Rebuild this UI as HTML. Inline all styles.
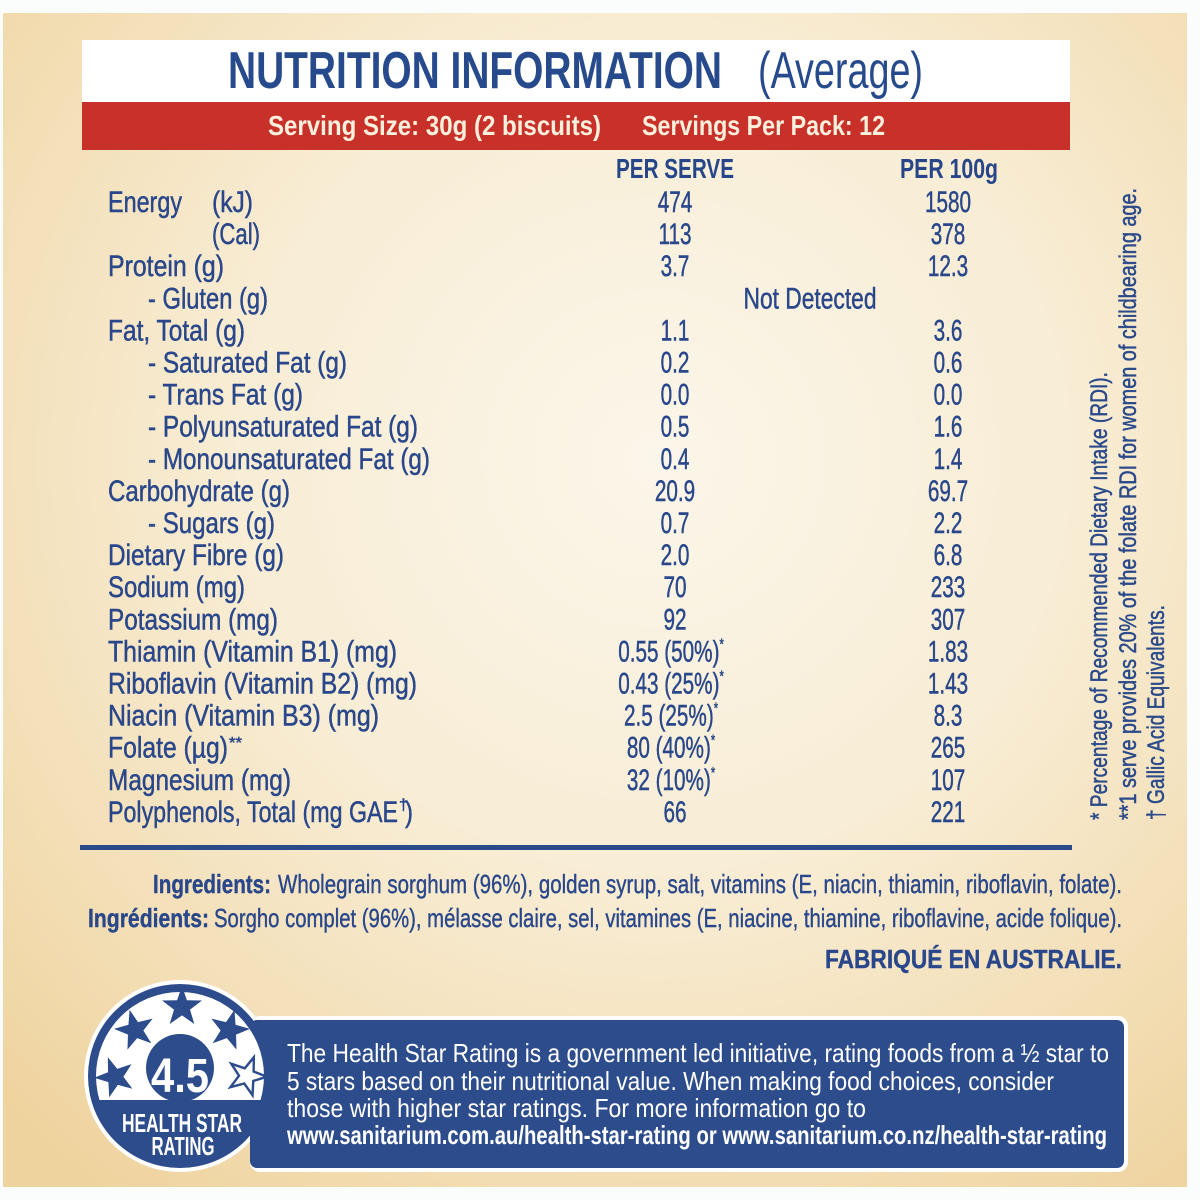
<!DOCTYPE html>
<html><head><meta charset="utf-8">
<style>
html,body{margin:0;padding:0;background:#fbfcfc;}
svg{display:block;}
text{font-family:"Liberation Sans",sans-serif;}
</style></head>
<body>
<svg width="1200" height="1200" viewBox="0 0 1200 1200" xmlns="http://www.w3.org/2000/svg">
<defs>
  <radialGradient id="bg" cx="0.55" cy="0.38" r="0.78">
    <stop offset="0" stop-color="#fbf6ea"/>
    <stop offset="0.45" stop-color="#f8edd5"/>
    <stop offset="1" stop-color="#efd39e"/>
  </radialGradient>
  <polygon id="st" points="0,-1 0.235,-0.324 0.951,-0.309 0.380,0.124 0.588,0.809 0,0.4 -0.588,0.809 -0.380,0.124 -0.951,-0.309 -0.235,-0.324"/>
  <clipPath id="topclip"><rect x="0" y="960" width="400" height="140"/></clipPath>
</defs>

<rect width="1200" height="1200" fill="#fbfcfc"/>
<rect x="3" y="13" width="1184" height="1174" fill="url(#bg)"/>

<!-- Title -->
<rect x="82" y="40" width="988" height="62" fill="#ffffff"/>
<text x="228" y="88" font-size="52" font-weight="bold" fill="#264a8c" textLength="494" lengthAdjust="spacingAndGlyphs">NUTRITION INFORMATION</text>
<text x="758" y="88" font-size="52" fill="#264a8c" textLength="165" lengthAdjust="spacingAndGlyphs">(Average)</text>

<rect x="82" y="102" width="988" height="48" fill="#c8312a"/>
<text x="268" y="135" font-size="28" font-weight="bold" fill="#fcefdc" textLength="333" lengthAdjust="spacingAndGlyphs">Serving Size: 30g (2 biscuits)</text>
<text x="642" y="135" font-size="28" font-weight="bold" fill="#fcefdc" textLength="243" lengthAdjust="spacingAndGlyphs">Servings Per Pack: 12</text>

<!-- Column headers -->
<text x="616" y="178" font-size="28" font-weight="bold" fill="#27468a" textLength="118" lengthAdjust="spacingAndGlyphs">PER SERVE</text>
<text x="900" y="178" font-size="28" font-weight="bold" fill="#27468a" textLength="98" lengthAdjust="spacingAndGlyphs">PER 100g</text>

<!-- Labels -->
<g font-size="30" fill="#29478a" stroke="#29478a" stroke-width="0.5">
<text x="108" y="212" textLength="74" lengthAdjust="spacingAndGlyphs">Energy</text>
<text x="212" y="212" textLength="41" lengthAdjust="spacingAndGlyphs">(kJ)</text>
<text x="212" y="244.1" textLength="48" lengthAdjust="spacingAndGlyphs">(Cal)</text>
<text x="108" y="276.2" textLength="116" lengthAdjust="spacingAndGlyphs">Protein (g)</text>
<text x="148" y="308.3" textLength="120" lengthAdjust="spacingAndGlyphs">- Gluten (g)</text>
<text x="108" y="340.4" textLength="137" lengthAdjust="spacingAndGlyphs">Fat, Total (g)</text>
<text x="148" y="372.5" textLength="199" lengthAdjust="spacingAndGlyphs">- Saturated Fat (g)</text>
<text x="148" y="404.6" textLength="155" lengthAdjust="spacingAndGlyphs">- Trans Fat (g)</text>
<text x="148" y="436.7" textLength="270" lengthAdjust="spacingAndGlyphs">- Polyunsaturated Fat (g)</text>
<text x="148" y="468.8" textLength="282" lengthAdjust="spacingAndGlyphs">- Monounsaturated Fat (g)</text>
<text x="108" y="500.9" textLength="182" lengthAdjust="spacingAndGlyphs">Carbohydrate (g)</text>
<text x="148" y="533" textLength="127" lengthAdjust="spacingAndGlyphs">- Sugars (g)</text>
<text x="108" y="565.1" textLength="176" lengthAdjust="spacingAndGlyphs">Dietary Fibre (g)</text>
<text x="108" y="597.2" textLength="137" lengthAdjust="spacingAndGlyphs">Sodium (mg)</text>
<text x="108" y="629.3" textLength="170" lengthAdjust="spacingAndGlyphs">Potassium (mg)</text>
<text x="108" y="661.4" textLength="289" lengthAdjust="spacingAndGlyphs">Thiamin (Vitamin B1) (mg)</text>
<text x="108" y="693.5" textLength="309" lengthAdjust="spacingAndGlyphs">Riboflavin (Vitamin B2) (mg)</text>
<text x="108" y="725.6" textLength="271" lengthAdjust="spacingAndGlyphs">Niacin (Vitamin B3) (mg)</text>
<text x="108" y="757.7" textLength="120" lengthAdjust="spacingAndGlyphs">Folate (µg)</text>
<text x="229" y="748" font-size="16" textLength="13" lengthAdjust="spacingAndGlyphs">**</text>
<text x="108" y="789.8" textLength="183" lengthAdjust="spacingAndGlyphs">Magnesium (mg)</text>
<text x="108" y="821.9" textLength="290" lengthAdjust="spacingAndGlyphs">Polyphenols, Total (mg GAE</text>
<text x="399" y="810" font-size="16">†</text>
<text x="405" y="821.9" textLength="8" lengthAdjust="spacingAndGlyphs">)</text>
</g>

<!-- Values -->
<g font-size="30" fill="#29478a" stroke="#29478a" stroke-width="0.5" text-anchor="middle">
<g transform="translate(675,212) scale(0.69,1)"><text>474</text></g>
<g transform="translate(948,212) scale(0.69,1)"><text>1580</text></g>
<g transform="translate(675,244.1) scale(0.69,1)"><text>113</text></g>
<g transform="translate(948,244.1) scale(0.69,1)"><text>378</text></g>
<g transform="translate(675,276.2) scale(0.69,1)"><text>3.7</text></g>
<g transform="translate(948,276.2) scale(0.69,1)"><text>12.3</text></g>
<text x="810" y="308.3" textLength="133" lengthAdjust="spacingAndGlyphs">Not Detected</text>
<g transform="translate(675,340.4) scale(0.69,1)"><text>1.1</text></g>
<g transform="translate(948,340.4) scale(0.69,1)"><text>3.6</text></g>
<g transform="translate(675,372.5) scale(0.69,1)"><text>0.2</text></g>
<g transform="translate(948,372.5) scale(0.69,1)"><text>0.6</text></g>
<g transform="translate(675,404.6) scale(0.69,1)"><text>0.0</text></g>
<g transform="translate(948,404.6) scale(0.69,1)"><text>0.0</text></g>
<g transform="translate(675,436.7) scale(0.69,1)"><text>0.5</text></g>
<g transform="translate(948,436.7) scale(0.69,1)"><text>1.6</text></g>
<g transform="translate(675,468.8) scale(0.69,1)"><text>0.4</text></g>
<g transform="translate(948,468.8) scale(0.69,1)"><text>1.4</text></g>
<g transform="translate(675,500.9) scale(0.69,1)"><text>20.9</text></g>
<g transform="translate(948,500.9) scale(0.69,1)"><text>69.7</text></g>
<g transform="translate(675,533) scale(0.69,1)"><text>0.7</text></g>
<g transform="translate(948,533) scale(0.69,1)"><text>2.2</text></g>
<g transform="translate(675,565.1) scale(0.69,1)"><text>2.0</text></g>
<g transform="translate(948,565.1) scale(0.69,1)"><text>6.8</text></g>
<g transform="translate(675,597.2) scale(0.69,1)"><text>70</text></g>
<g transform="translate(948,597.2) scale(0.69,1)"><text>233</text></g>
<g transform="translate(675,629.3) scale(0.69,1)"><text>92</text></g>
<g transform="translate(948,629.3) scale(0.69,1)"><text>307</text></g>
<g transform="translate(671,661.4) scale(0.69,1)"><text>0.55 (50%)<tspan font-size="16" dy="-12">*</tspan></text></g>
<g transform="translate(948,661.4) scale(0.69,1)"><text>1.83</text></g>
<g transform="translate(671,693.5) scale(0.69,1)"><text>0.43 (25%)<tspan font-size="16" dy="-12">*</tspan></text></g>
<g transform="translate(948,693.5) scale(0.69,1)"><text>1.43</text></g>
<g transform="translate(671,725.6) scale(0.69,1)"><text>2.5 (25%)<tspan font-size="16" dy="-12">*</tspan></text></g>
<g transform="translate(948,725.6) scale(0.69,1)"><text>8.3</text></g>
<g transform="translate(671,757.7) scale(0.69,1)"><text>80 (40%)<tspan font-size="16" dy="-12">*</tspan></text></g>
<g transform="translate(948,757.7) scale(0.69,1)"><text>265</text></g>
<g transform="translate(671,789.8) scale(0.69,1)"><text>32 (10%)<tspan font-size="16" dy="-12">*</tspan></text></g>
<g transform="translate(948,789.8) scale(0.69,1)"><text>107</text></g>
<g transform="translate(675,821.9) scale(0.69,1)"><text>66</text></g>
<g transform="translate(948,821.9) scale(0.69,1)"><text>221</text></g>
</g>

<!-- Divider -->
<rect x="80" y="845" width="992" height="5" fill="#2a4a8a"/>

<!-- Vertical footnotes -->
<g font-size="24" fill="#2b4a8a" stroke="#2b4a8a" stroke-width="0.5">
<text transform="translate(1107,820) rotate(-90)" textLength="448" lengthAdjust="spacingAndGlyphs">* Percentage of Recommended Dietary Intake (RDI).</text>
<text transform="translate(1136,820) rotate(-90)" textLength="632" lengthAdjust="spacingAndGlyphs">**1 serve provides 20% of the folate RDI for women of childbearing age.</text>
<text transform="translate(1164,820) rotate(-90)" textLength="215" lengthAdjust="spacingAndGlyphs">† Gallic Acid Equivalents.</text>
</g>

<!-- Ingredients -->
<g font-size="26" fill="#29478a" stroke="#29478a" stroke-width="0.4">
<text x="153" y="893" font-weight="bold" textLength="118" lengthAdjust="spacingAndGlyphs">Ingredients:</text>
<text x="278" y="893" textLength="844" lengthAdjust="spacingAndGlyphs">Wholegrain sorghum (96%), golden syrup, salt, vitamins (E, niacin, thiamin, riboflavin, folate).</text>
<text x="88" y="927" font-weight="bold" textLength="121" lengthAdjust="spacingAndGlyphs">Ingrédients:</text>
<text x="214" y="927" textLength="908" lengthAdjust="spacingAndGlyphs">Sorgho complet (96%), mélasse claire, sel, vitamines (E, niacine, thiamine, riboflavine, acide folique).</text>
<text x="825" y="968" font-weight="bold" textLength="297" lengthAdjust="spacingAndGlyphs">FABRIQUÉ EN AUSTRALIE.</text>
</g>

<!-- Health star rating -->
<rect x="250" y="1016" width="878" height="156" rx="10" fill="#ffffff"/>
<circle cx="180" cy="1076" r="96" fill="#ffffff"/>
<rect x="250" y="1020" width="874" height="148" rx="7" fill="#2d4c8c"/>
<circle cx="180" cy="1076" r="92" fill="#2d4c8c"/>
<circle cx="180" cy="1076" r="84" fill="#ffffff" clip-path="url(#topclip)"/>
<circle cx="180" cy="1068" r="34" fill="#2d4c8c"/>
<g fill="#2d4c8c">
<use href="#st" transform="translate(182,1007) scale(21)"/>
<use href="#st" transform="translate(135,1030) rotate(-15) scale(21)"/>
<use href="#st" transform="translate(229,1030) rotate(15) scale(21)"/>
<use href="#st" transform="translate(115,1077) rotate(-20) scale(21)"/>
</g>
<use href="#st" transform="translate(247,1076) rotate(20) scale(20)" fill="#ffffff" stroke="#2d4c8c" stroke-width="0.12"/>
<text x="180" y="1092" font-size="48" font-weight="bold" fill="#ffffff" text-anchor="middle" textLength="58" lengthAdjust="spacingAndGlyphs">4.5</text>
<text x="182" y="1132" font-size="26" font-weight="bold" fill="#ffffff" text-anchor="middle" textLength="120" lengthAdjust="spacingAndGlyphs">HEALTH STAR</text>
<text x="183" y="1155" font-size="26" font-weight="bold" fill="#ffffff" text-anchor="middle" textLength="63" lengthAdjust="spacingAndGlyphs">RATING</text>

<g font-size="26" fill="#ffffff">
<text x="287" y="1062" textLength="822" lengthAdjust="spacingAndGlyphs">The Health Star Rating is a government led initiative, rating foods from a ½ star to</text>
<text x="287" y="1090" textLength="767" lengthAdjust="spacingAndGlyphs">5 stars based on their nutritional value. When making food choices, consider</text>
<text x="287" y="1117" textLength="579" lengthAdjust="spacingAndGlyphs">those with higher star ratings. For more information go to</text>
<text x="287" y="1144" font-weight="bold" textLength="820" lengthAdjust="spacingAndGlyphs">www.sanitarium.com.au/health-star-rating or www.sanitarium.co.nz/health-star-rating</text>
</g>
</svg>
</body></html>
